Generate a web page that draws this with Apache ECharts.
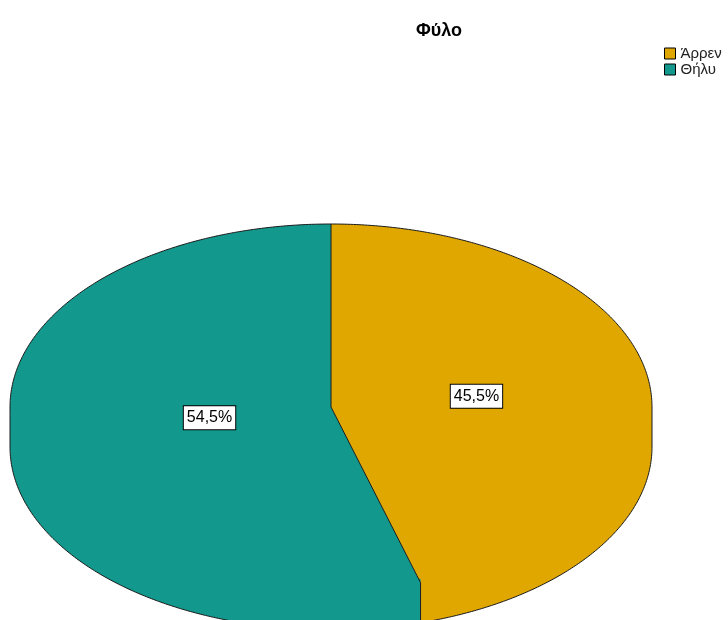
<!DOCTYPE html>
<html>
<head>
<meta charset="utf-8">
<script src="https://cdn.jsdelivr.net/npm/echarts@6/dist/echarts.min.js"></script>
<style>
  html, body { margin: 0; padding: 0; background: #fff; }
  #chart { width: 728px; height: 620px; }
</style>
</head>
<body>
<div id="chart"></div>
<script>
// Gender split, drawn as a tilted 3D pie
const titleText = 'Φύλο';
const categories = ['Άρρεν', 'Θήλυ'];
const shares = [45.5, 54.5];
const colors = ['#e0a700', '#12988c'];

// Ellipse geometry of the pie body
const CX = 331, CY = 407, RX = 321, RY = 183, DEPTH = 40;
const total = shares.reduce((a, b) => a + b, 0);
const TAU = Math.PI * 2;
const FONT = '"Liberation Sans", Arial, sans-serif';

// angle measured clockwise from 12 o'clock
function pt(theta, dy) {
  return [CX + RX * Math.sin(theta), CY - RY * Math.cos(theta) + (dy || 0)];
}
function arc(a, b, dy) {
  const pts = [];
  const n = Math.max(2, Math.ceil(Math.abs(b - a) / (Math.PI / 360)));
  for (let k = 0; k <= n; k++) pts.push(pt(a + (b - a) * k / n, dy));
  return pts;
}
function startAngle(i) {
  let s = 0;
  for (let k = 0; k < i; k++) s += shares[k];
  return s / total * TAU;
}
function fmt(v) { return v.toFixed(1).replace('.', ',') + '%'; }

function sliceRenderer(i) {
  return function (params, api) {
    const a = startAngle(i);
    const b = a + api.value(0) / total * TAU;
    const children = [];
    // visible side wall (front half of the ellipse); its upper edge tucks
    // under the top face so the two fills join without a seam
    const fa = Math.max(a, Math.PI / 2), fb = Math.min(b, Math.PI * 1.5);
    if (fa < fb) {
      const pts = arc(fa, fb, -4).concat(arc(fb, fa, DEPTH));
      children.push({
        type: 'polygon', shape: { points: pts },
        style: { fill: colors[i] }
      });
    }
    // top face
    children.push({
      type: 'polygon',
      shape: { points: [[CX, CY]].concat(arc(a, b, 0)) },
      style: { fill: colors[i] }
    });
    // value label
    const mid = (a + b) / 2;
    const lp = [CX + 0.42 * RX * Math.sin(mid) + 12, CY - 0.42 * RY * Math.cos(mid)];
    children.push({
      type: 'text',
      z2: 10,
      x: lp[0], y: lp[1],
      style: {
        text: fmt(api.value(0)),
        fill: '#000',
        font: '16px ' + FONT,
        align: 'center',
        verticalAlign: 'middle',
        backgroundColor: '#fff',
        borderColor: '#000',
        borderWidth: 1,
        padding: [4, 3, 3, 3]
      }
    });
    return { type: 'group', children: children };
  };
}

function edgesRenderer() {
  const children = [];
  const line = { stroke: '#1a1a1a', lineWidth: 1, fill: null };
  // back rim of the top face
  children.push({ type: 'polyline', shape: { points: arc(-Math.PI / 2, Math.PI / 2, 0) }, style: line });
  // bottom rim and outer verticals
  children.push({ type: 'polyline', shape: { points: arc(Math.PI / 2, Math.PI * 1.5, DEPTH) }, style: line });
  children.push({ type: 'polyline', shape: { points: [pt(Math.PI / 2), pt(Math.PI / 2, DEPTH)] }, style: line });
  children.push({ type: 'polyline', shape: { points: [pt(Math.PI * 1.5), pt(Math.PI * 1.5, DEPTH)] }, style: line });
  // slice boundaries
  for (let i = 0; i < shares.length; i++) {
    const t = startAngle(i);
    children.push({ type: 'polyline', shape: { points: [[CX, CY], pt(t)] }, style: line });
    const tm = t % TAU;
    if (tm > Math.PI / 2 && tm < Math.PI * 1.5) {
      children.push({ type: 'polyline', shape: { points: [pt(t), pt(t, DEPTH)] }, style: line });
    }
  }
  return { type: 'group', children: children };
}

const chart = echarts.init(document.getElementById('chart'), null, { renderer: 'canvas' });

const series = categories.map((name, i) => ({
  type: 'custom',
  name: name,
  coordinateSystem: 'none',
  silent: true,
  z: 2,
  itemStyle: { color: colors[i] },
  data: [[shares[i]]],
  renderItem: sliceRenderer(i)
}));
series.push({
  type: 'custom',
  name: 'edges',
  coordinateSystem: 'none',
  silent: true,
  z: 3,
  data: [[0]],
  renderItem: edgesRenderer
});

chart.setOption({
  animation: false,
  backgroundColor: '#fff',
  title: {
    text: titleText,
    left: 411,
    top: 17,
    textStyle: { fontFamily: FONT, fontSize: 18, fontWeight: 'bold', color: '#000' }
  },
  legend: {
    data: categories,
    orient: 'vertical',
    left: 664,
    top: 46,
    padding: 0,
    icon: 'rect',
    itemWidth: 11,
    itemHeight: 11,
    itemGap: 1,
    selectedMode: false,
    itemStyle: { borderColor: '#000', borderWidth: 1 },
    textStyle: { fontFamily: FONT, fontSize: 15, color: '#222', padding: [0, 0, 0, 0] }
  },
  series: series
});
</script>
</body>
</html>
